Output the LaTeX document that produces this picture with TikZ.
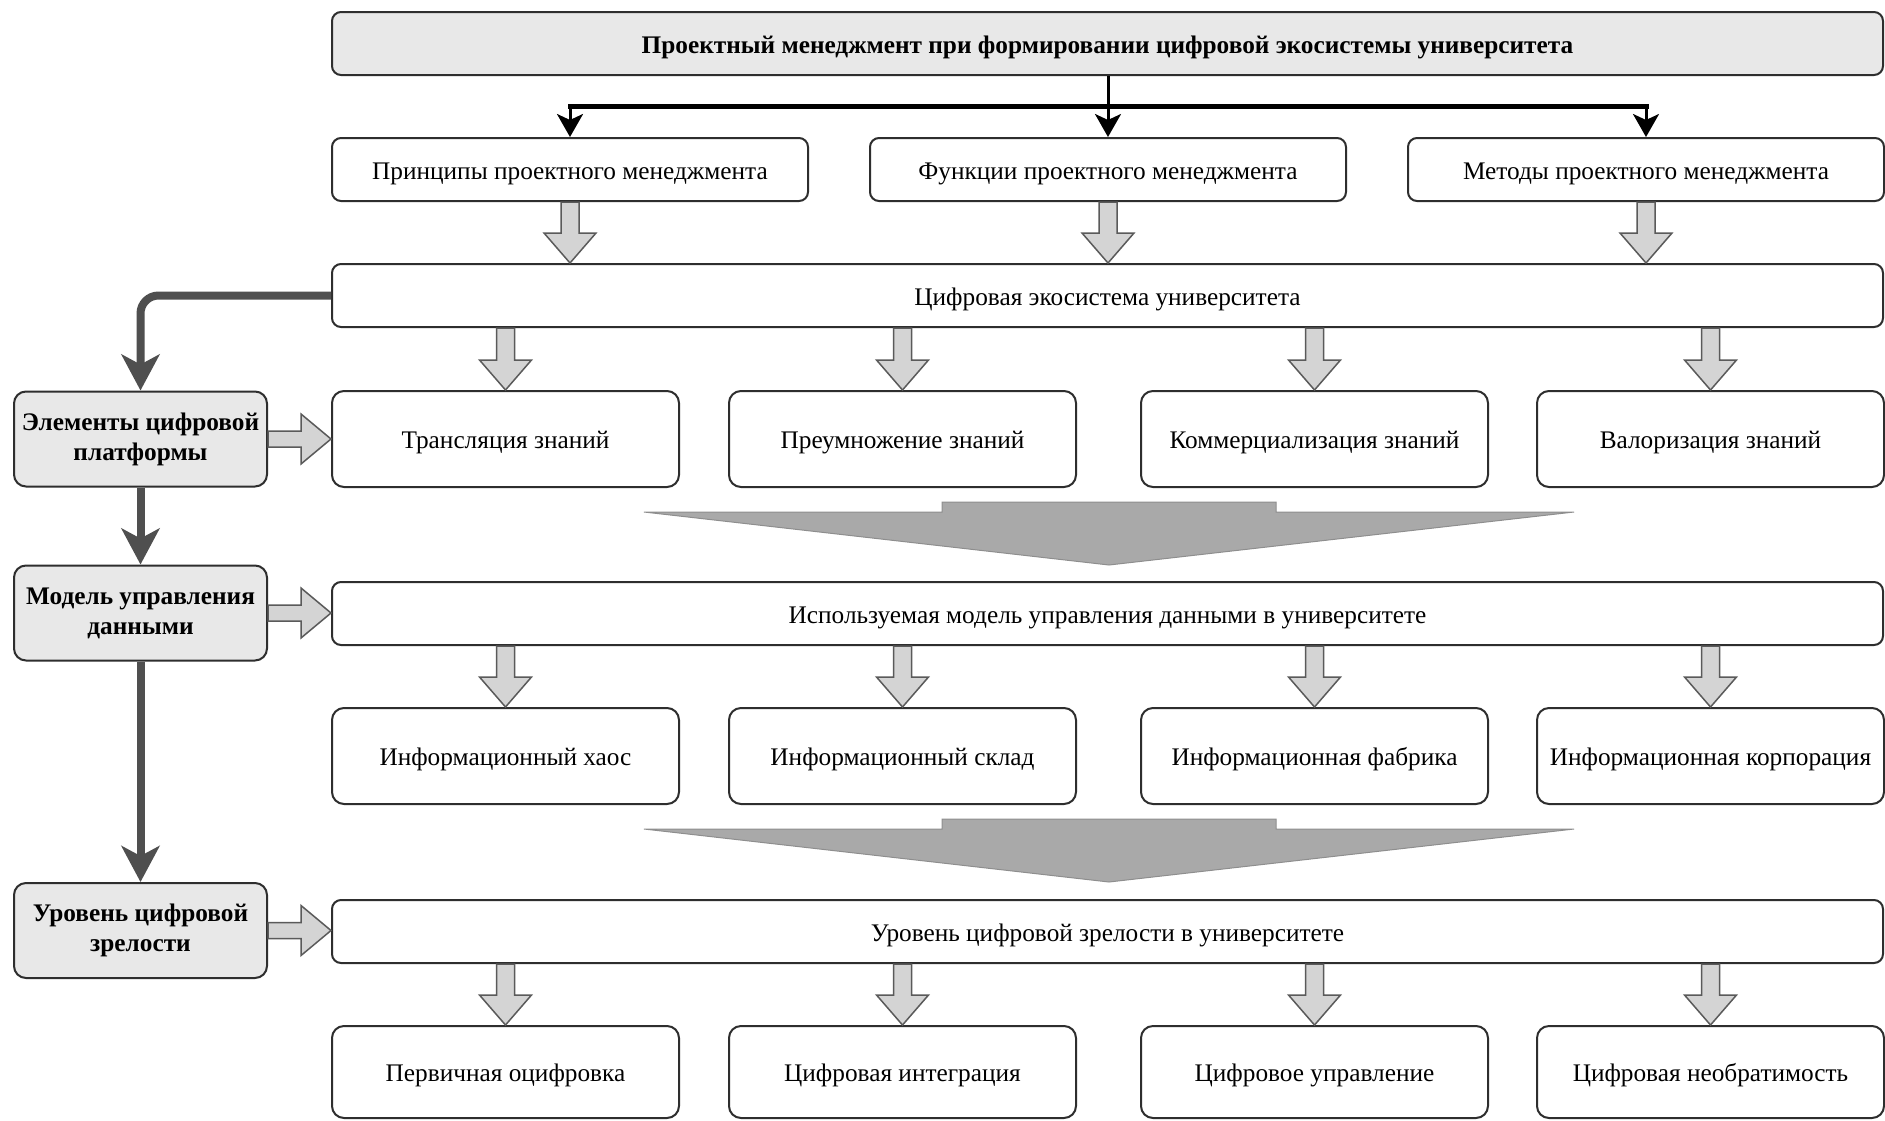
\documentclass[tikz,border=0pt]{standalone}
\usepackage{fontspec}
\setmainfont{Liberation Serif}
\usetikzlibrary{arrows.meta,calc}

\definecolor{boxline}{HTML}{2E2E2E}
\definecolor{headfill}{HTML}{E8E8E8}
\definecolor{blockfill}{HTML}{D4D4D4}
\definecolor{blockline}{HTML}{5A5A5A}
\definecolor{wedgefill}{HTML}{A9A9A9}
\definecolor{wedgeline}{HTML}{8E8E8E}
\definecolor{darklink}{HTML}{4F4F4F}

\newcommand{\labelfont}{\fontsize{25.3pt}{30pt}\selectfont}
% two centred lines, lowered a little so they sit in the middle of the box
\newcommand{\twolines}[2]{\raisebox{-3pt}{\begin{tabular}{@{}c@{}}#1\\#2\end{tabular}}}

\tikzset{
  base/.style={draw=boxline, line width=2pt, rounded corners=12pt,
    inner sep=0pt, fill=white, font=\labelfont, text height=24pt, text depth=5pt},
  wide/.style={base, rounded corners=9pt, minimum width=1551pt, minimum height=63pt},
  topic/.style={base, rounded corners=9pt, minimum width=476pt, minimum height=63pt},
  cell/.style={base, minimum width=347pt, minimum height=96pt},
  side/.style={draw=boxline, line width=2pt, rounded corners=12pt, inner sep=0pt,
    fill=headfill, minimum width=253pt, minimum height=95pt,
    font=\labelfont\bfseries},
  blockarr/.style={fill=blockfill, draw=blockline, line width=1.5pt, line join=miter},
  darkconn/.style={draw=darklink, line width=8pt,
    -{Stealth[length=36pt,width=38pt,inset=10pt]}},
  blackconn/.style={draw=black, line width=3pt,
    -{Stealth[length=23pt,width=26pt,inset=6pt]}},
  funnel/.pic={
    \filldraw[fill=wedgefill, draw=wedgeline, line width=1pt]
      (-465,-53) -- (-167,-53) -- (-167,-63) -- (167,-63) -- (167,-53)
      -- (465,-53) -- (0,0) -- cycle;
  }
}

% hollow grey arrow pointing down: x taken from the target point
\newcommand{\blockdown}[2]{%
  \filldraw[blockarr] let \p1=(#1), \p2=(#2) in
    (\x2-9pt,\y1) -- (\x2-9pt,\y2+30pt) -- (\x2-26pt,\y2+30pt) -- (\x2,\y2)
    -- (\x2+26pt,\y2+30pt) -- (\x2+9pt,\y2+30pt) -- (\x2+9pt,\y1) -- cycle;}
% hollow grey arrow pointing right: y taken from the source point
\newcommand{\blockright}[2]{%
  \filldraw[blockarr] let \p1=(#1), \p2=(#2) in
    (\x1,\y1+8pt) -- (\x2-30pt,\y1+8pt) -- (\x2-30pt,\y1+25pt) -- (\x2,\y1)
    -- (\x2-30pt,\y1-25pt) -- (\x2-30pt,\y1-8pt) -- (\x1,\y1-8pt) -- cycle;}

\begin{document}
\begin{tikzpicture}[x=1pt,y=-1pt]
\useasboundingbox[fill=white] (0,0) rectangle (1885,1120);

% title and the three areas of project management
\node[wide, fill=headfill, font=\labelfont\bfseries] (top) at (1107.5,43.5)
  {Проектный менеджмент при формировании цифровой экосистемы университета};
\node[topic] (p1) at (570,169.5) {Принципы проектного менеджмента};
\node[topic] (p2) at (1108,169.5) {Функции проектного менеджмента};
\node[topic] (p3) at (1646,169.5) {Методы проектного менеджмента};

% ecosystem and knowledge processes
\node[wide] (eco) at (1107.5,295.5) {Цифровая экосистема университета};
\node[cell] (k1) at (505.5,439) {Трансляция знаний};
\node[cell] (k2) at (902.5,439) {Преумножение знаний};
\node[cell] (k3) at (1314.5,439) {Коммерциализация знаний};
\node[cell] (k4) at (1710.5,439) {Валоризация знаний};

% data management model
\node[wide] (dm) at (1107.5,613.5) {Используемая модель управления данными в университете};
\node[cell] (i1) at (505.5,756) {Информационный хаос};
\node[cell] (i2) at (902.5,756) {Информационный склад};
\node[cell] (i3) at (1314.5,756) {Информационная фабрика};
\node[cell] (i4) at (1710.5,756) {Информационная корпорация};

% digital maturity
\node[wide] (mat) at (1107.5,931.5) {Уровень цифровой зрелости в университете};
\node[cell, minimum height=92pt] (d1) at (505.5,1072) {Первичная оцифровка};
\node[cell, minimum height=92pt] (d2) at (902.5,1072) {Цифровая интеграция};
\node[cell, minimum height=92pt] (d3) at (1314.5,1072) {Цифровое управление};
\node[cell, minimum height=92pt] (d4) at (1710.5,1072) {Цифровая необратимость};

% left-hand column
\node[side] (el) at (140.5,439) {\twolines{Элементы цифровой}{платформы}};
\node[side] (mod) at (140.5,613) {\twolines{Модель управления}{данными}};
\node[side] (lvl) at (140.5,930.5) {\twolines{Уровень цифровой}{зрелости}};

% black distribution from the title
\coordinate (hub) at (1108,106);
\draw[line width=3pt] (top.south -| hub) -- (hub);
\draw[line width=5pt, line cap=rect] (p1.north |- hub) -- (p3.north |- hub);
\foreach \t in {p1,p2,p3}
  \draw[blackconn] (\t.north |- hub) -- (\t.north);

% hollow arrows between rows
\foreach \t in {p1,p2,p3}
  \blockdown{\t.south}{\t.south |- eco.north};
\foreach \t in {k1,k2,k3,k4}
  \blockdown{eco.south}{\t.north};
\foreach \t in {i1,i2,i3,i4}
  \blockdown{dm.south}{\t.north};
\foreach \t in {d1,d2,d3,d4}
  \blockdown{mat.south}{\t.north};

\blockright{el.east}{el.east -| k1.west};
\blockright{mod.east}{mod.east -| dm.west};
\blockright{lvl.east}{lvl.east -| mat.west};

% wide funnels between the levels
\pic at (1109,565) {funnel};
\pic at (1109,882) {funnel};

% dark links along the left column
\draw[darkconn, rounded corners=18pt] (eco.west) -| (el.north);
\draw[darkconn] (el.south) -- (mod.north);
\draw[darkconn] (mod.south) -- (lvl.north);
\end{tikzpicture}
\end{document}
